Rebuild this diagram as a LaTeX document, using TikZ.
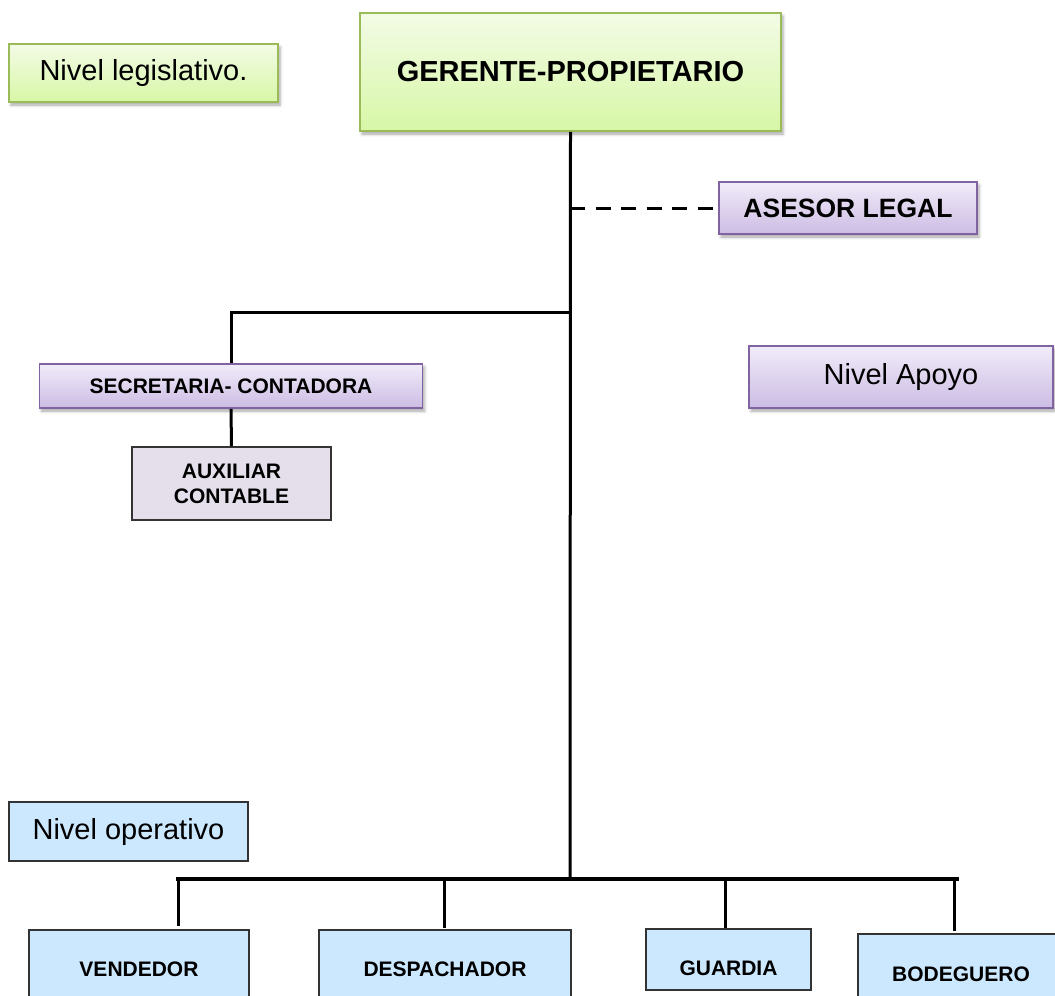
\documentclass[tikz,border=0pt]{standalone}
\usepackage{fontspec}
\setmainfont{Liberation Sans}
\usetikzlibrary{shadows.blur}
\definecolor{gfillA}{RGB}{243,251,230}
\definecolor{gfillB}{RGB}{215,247,166}
\definecolor{gborder}{RGB}{155,187,89}
\definecolor{pfillA}{RGB}{241,236,249}
\definecolor{pfillB}{RGB}{204,188,228}
\definecolor{pborder}{RGB}{128,100,162}
\definecolor{bfill}{RGB}{204,232,254}
\definecolor{auxfill}{RGB}{229,223,236}
\begin{document}
\begin{tikzpicture}[x=1pt,y=-1pt,
  box/.style={rectangle, inner sep=0pt, align=center,
    blur shadow={shadow xshift=2pt, shadow yshift=-3pt, shadow blur radius=3pt, shadow opacity=35}},
  greenbox/.style={box, draw=gborder, line width=1.6pt, top color=gfillA, bottom color=gfillB},
  purplebox/.style={box, draw=pborder, line width=1.6pt, top color=pfillA, bottom color=pfillB},
  bluebox/.style={rectangle, inner sep=0pt, align=center, draw=black!80, line width=1.5pt, fill=bfill},
  auxbox/.style={rectangle, inner sep=0pt, align=center, draw=black!80, line width=1.5pt, fill=auxfill},
  regtext/.style={font=\fontsize{29}{34}\selectfont},
  bigbold/.style={font=\fontsize{29}{34}\selectfont\bfseries},
  midbold/.style={font=\fontsize{26.5}{31}\selectfont\bfseries},
  smallbold/.style={font=\fontsize{21}{25}\selectfont\bfseries},
  conn/.style={line width=3pt, black},
  busline/.style={line width=4.5pt, black}
]
\useasboundingbox (0,0) rectangle (1055,996);
\clip (0,0) rectangle (1055,996);

% nodes
\node[greenbox, regtext, minimum width=269, minimum height=58] (legis) at (143.5,73) {Nivel legislativo.};
\node[greenbox, bigbold, minimum width=421, minimum height=118] (ger) at (570.5,72) {GERENTE-PROPIETARIO};
\node[purplebox, midbold, minimum width=258, minimum height=52] (ases) at (848,208) {ASESOR LEGAL};
\node[purplebox, smallbold, minimum width=383, minimum height=44] (sec) at (231,386) {SECRETARIA- CONTADORA};
\node[auxbox, smallbold, minimum width=199, minimum height=73] (aux) at (231.5,483.5) {AUXILIAR\\CONTABLE};
\node[purplebox, regtext, minimum width=304, minimum height=62] (apoyo) at (901,377) {Nivel Apoyo};
\node[bluebox, regtext, minimum width=239, minimum height=59] (oper) at (128.5,831.5) {Nivel operativo};

\node[bluebox, smallbold, minimum width=220, minimum height=78] (vend) at (139,969) {VENDEDOR};
\node[bluebox, smallbold, minimum width=252, minimum height=78] (desp) at (445,969) {DESPACHADOR};
\node[bluebox, minimum width=165, minimum height=61] (guard) at (728.5,959.5) {};
\node[smallbold] (guardt) at (728.5,968) {GUARDIA};
\node[bluebox, smallbold, minimum width=206, minimum height=80] (bod) at (961,974) {BODEGUERO};

% junctions
\coordinate (jA) at (570,208);
\coordinate (jS) at (570,312);
\coordinate (jB) at (570,879);
\coordinate (bL) at (176,879);
\coordinate (bR) at (959,879);
\coordinate (d1) at (178,879);
\coordinate (d2) at (444,879);
\coordinate (d3) at (725,879);
\coordinate (d4) at (954,879);

% connectors
\draw[conn] (ger.south) -- (jB);
\draw[conn, dash pattern=on 15pt off 10.5pt] (jA) -- (ases.west);
\draw[conn] (jS) -| (sec.north);
\draw[conn] (sec.south) -- (aux.north);
\draw[busline] (bL) -- (bR);
\draw[conn] (d1) -- ([yshift=3pt]d1 |- vend.north);
\draw[conn] (d2) -- ([yshift=1pt]d2 |- desp.north);
\draw[conn] (d3) -- (d3 |- guard.north);
\draw[conn] (d4) -- ([yshift=2pt]d4 |- bod.north);
\end{tikzpicture}
\end{document}
